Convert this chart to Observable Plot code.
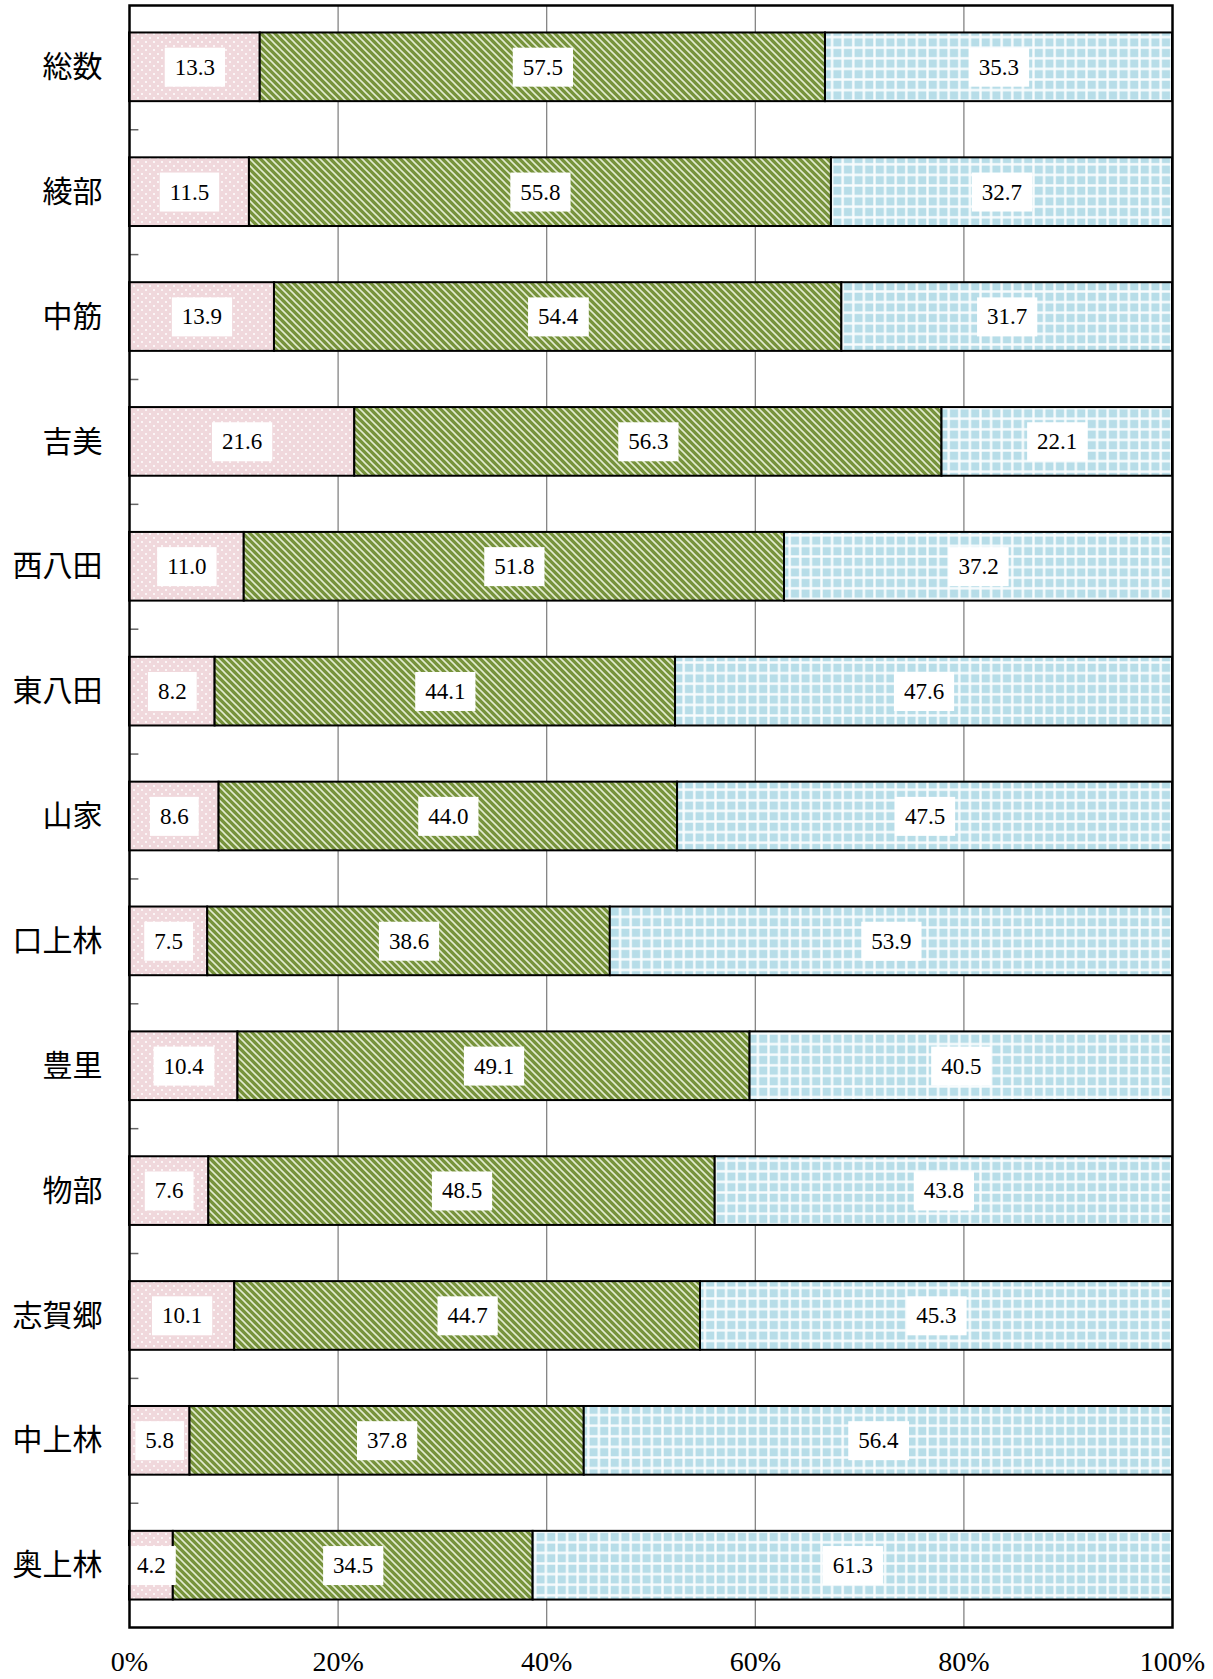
<!DOCTYPE html>
<html><head><meta charset="utf-8">
<script src="https://cdn.jsdelivr.net/npm/d3@7"></script>
<script src="https://cdn.jsdelivr.net/npm/@observablehq/plot@0.6"></script>
<style>body{margin:0;background:#fff}</style>
</head><body><div id="chart"></div>
<script>
const categories = ["総数","綾部","中筋","吉美","西八田","東八田","山家","口上林","豊里","物部","志賀郷","中上林","奥上林"];
const series = ["s1","s2","s3"];
const values1 = [13.3,11.5,13.9,21.6,11.0,8.2,8.6,7.5,10.4,7.6,10.1,5.8,4.2];
const values2 = [57.5,55.8,54.4,56.3,51.8,44.1,44.0,38.6,49.1,48.5,44.7,37.8,34.5];
const values3 = [35.3,32.7,31.7,22.1,37.2,47.6,47.5,53.9,40.5,43.8,45.3,56.4,61.3];
const xTicks = [0,20,40,60,80,100];

const data = [];
categories.forEach((c,i) => {
  data.push({cat:c, series:"s1", value:values1[i]});
  data.push({cat:c, series:"s2", value:values2[i]});
  data.push({cat:c, series:"s3", value:values3[i]});
});

const W=1213, H=1679, mt=5, mb=52, ml=129, mr=41;
const pIn = 0.45, pOut = 0.22;
const step = (H-mt-mb)/(categories.length - pIn + 2*pOut);

const plot = Plot.plot({
  width:W, height:H, marginTop:mt, marginBottom:mb, marginLeft:ml, marginRight:mr,
  style:{background:"white", color:"black", fontFamily:"Liberation Serif"},
  x:{domain:[0,1], label:null},
  y:{domain:categories, paddingInner:pIn, paddingOuter:pOut, round:false, label:null},
  color:{domain:series, range:["url(#pPink)","url(#pGreen)","url(#pBlue)"]},
  marks:[
    Plot.ruleX(xTicks.slice(1,-1), {x:d=>d/100, stroke:"#7a7a7a", strokeWidth:1.2}),
    Plot.barX(data, Plot.stackX({x:"value", y:"cat", z:"series", fill:"series", offset:"normalize", stroke:"black", strokeWidth:2})),
    Plot.text(data, Plot.stackX({x:"value", y:"cat", z:"series", offset:"normalize", text:d=>d.value.toFixed(1), fontSize:23, fontFamily:"Liberation Serif", fill:"black"})),
    Plot.ruleY(categories.slice(1), {y:d=>d, x1:0, x2:0.009, dy:-step/2, stroke:"#666", strokeWidth:1.5}),
    Plot.frame({stroke:"black", strokeWidth:2.5}),
    Plot.axisY({tickSize:0, tickPadding:27, fontSize:30, fontFamily:"Noto Sans CJK JP", label:null}),
    Plot.axisX(xTicks.map(d=>d/100), {tickSize:0, tickPadding:24, tickFormat:d=>Math.round(d*100)+"%", fontSize:28, fontFamily:"Liberation Serif", label:null})
  ]
});
document.getElementById("chart").append(plot);

const svg = d3.select(plot);
const defs = svg.insert("defs", ":first-child");
const pk = defs.append("pattern").attr("id","pPink").attr("width",8).attr("height",8).attr("patternUnits","userSpaceOnUse");
pk.append("rect").attr("width",8).attr("height",8).attr("fill","#f0d8dc");
pk.append("circle").attr("cx",2).attr("cy",2).attr("r",1).attr("fill","#fff");
pk.append("circle").attr("cx",6).attr("cy",6).attr("r",1).attr("fill","#fff");
const gr = defs.append("pattern").attr("id","pGreen").attr("width",7).attr("height",7).attr("patternUnits","userSpaceOnUse");
gr.append("rect").attr("width",7).attr("height",7).attr("fill","#77933c");
gr.append("path").attr("d","M-1,-1L8,8M-1,6L1,8M6,-1L8,1").attr("stroke","#e2ebcf").attr("stroke-width",1.6);
const bl = defs.append("pattern").attr("id","pBlue").attr("width",10.6).attr("height",10.6).attr("patternUnits","userSpaceOnUse");
bl.append("rect").attr("width",10.6).attr("height",10.6).attr("fill","#b7dde8");
bl.append("path").attr("d","M0,5.3H10.6M5.3,0V10.6").attr("stroke","#fff").attr("stroke-width",2.4).attr("opacity",0.9);

svg.selectAll('g[aria-label="text"] text').each(function(){
  const b = this.getBBox();
  const padX = 10, h = 39;
  const t = this;
  d3.select(this.parentNode).insert("rect", () => t)
    .attr("x", b.x - padX).attr("y", b.y + b.height/2 - h/2)
    .attr("width", b.width + 2*padX).attr("height", h)
    .attr("fill", "white").attr("stroke", "none")
    .attr("transform", t.getAttribute("transform"));
});
</script>
</body></html>
